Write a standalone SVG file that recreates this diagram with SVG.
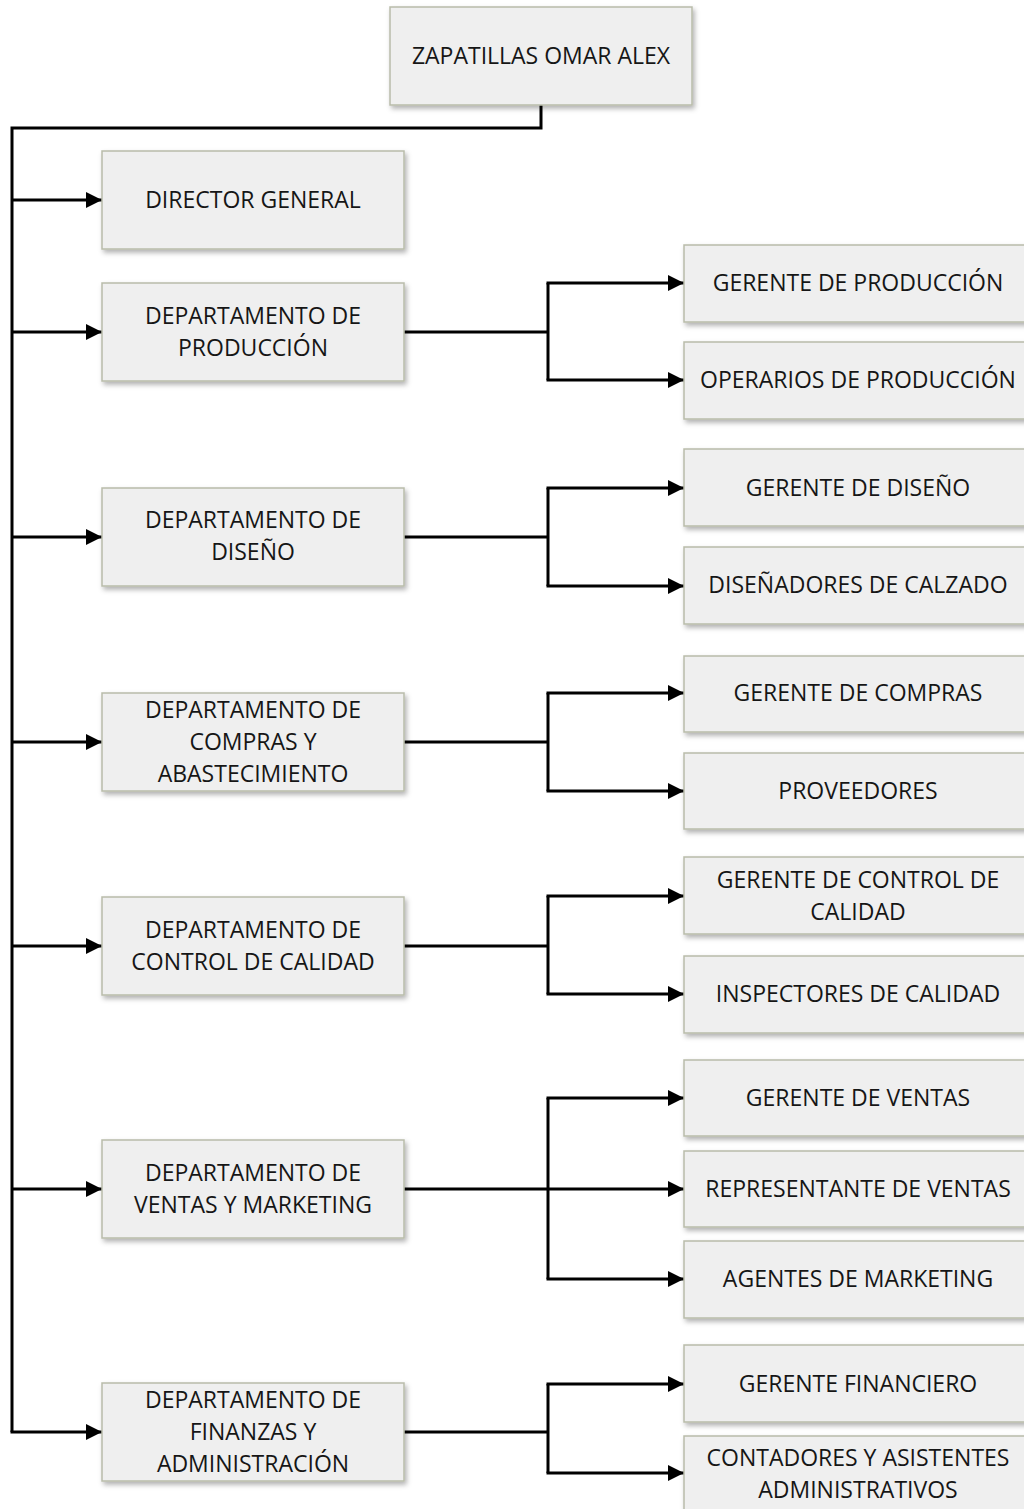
<svg xmlns="http://www.w3.org/2000/svg" width="1024" height="1509" viewBox="0 0 1024 1509">
  <style>
    .box { fill: #efefef; stroke: #b9bcaa; stroke-width: 1.5; filter: url(#shadow); }
    .lbl { font-family: "Open Sans", "Liberation Sans", sans-serif; font-size: 23px; fill: #161616; text-anchor: middle; }
    .wire { fill: none; stroke: #000; stroke-width: 3; }
    .arrow { fill: none; stroke: #000; stroke-width: 3; marker-end: url(#head); }
  </style>
  <defs>
    <filter id="shadow" x="-10%" y="-20%" width="125%" height="150%">
      <feDropShadow dx="2" dy="3" stdDeviation="2.5" flood-color="#000" flood-opacity="0.3"/>
    </filter>
    <marker id="head" viewBox="0 0 10 10" refX="10" refY="5" markerUnits="userSpaceOnUse" markerWidth="19" markerHeight="16" orient="auto">
      <path d="M0,0 L10,5 L0,10 Z" fill="#000"/>
    </marker>
  </defs>

  <rect width="1024" height="1509" fill="#fff"/>

  <!-- connectors -->
  <g id="connectors">
    <!-- trunk from the company box down the left edge -->
    <path class="wire" d="M541,105 V128 H12 V1432"/>
    <path class="arrow" d="M12,200 H102"/>
    <path class="arrow" d="M12,332 H102"/>
    <path class="arrow" d="M12,537 H102"/>
    <path class="arrow" d="M12,742 H102"/>
    <path class="arrow" d="M12,946 H102"/>
    <path class="arrow" d="M12,1189 H102"/>
    <path class="arrow" d="M10.5,1432 H102"/>

    <!-- produccion -->
    <path class="wire" d="M404,332 H548 M548,283 V380"/>
    <path class="arrow" d="M546.5,283 H684"/>
    <path class="arrow" d="M546.5,380 H684"/>
    <!-- diseno -->
    <path class="wire" d="M404,537 H548 M548,488 V586"/>
    <path class="arrow" d="M546.5,488 H684"/>
    <path class="arrow" d="M546.5,586 H684"/>
    <!-- compras -->
    <path class="wire" d="M404,742 H548 M548,693 V791"/>
    <path class="arrow" d="M546.5,693 H684"/>
    <path class="arrow" d="M546.5,791 H684"/>
    <!-- calidad -->
    <path class="wire" d="M404,946 H548 M548,896 V994"/>
    <path class="arrow" d="M546.5,896 H684"/>
    <path class="arrow" d="M546.5,994 H684"/>
    <!-- ventas -->
    <path class="wire" d="M548,1098 V1279"/>
    <path class="arrow" d="M546.5,1098 H684"/>
    <path class="arrow" d="M404,1189 H684"/>
    <path class="arrow" d="M546.5,1279 H684"/>
    <!-- finanzas -->
    <path class="wire" d="M404,1432 H548 M548,1384 V1473"/>
    <path class="arrow" d="M546.5,1384 H684"/>
    <path class="arrow" d="M546.5,1473 H684"/>
  </g>

  <g id="empresa">
    <rect class="box" x="390" y="7" width="302" height="98"/>
    <text class="lbl" x="541" y="64">ZAPATILLAS OMAR ALEX</text>
  </g>

  <g id="director-general">
    <rect class="box" x="102" y="151" width="302" height="98"/>
    <text class="lbl" x="253" y="208">DIRECTOR GENERAL</text>
  </g>
  <g id="dep-produccion">
    <rect class="box" x="102" y="283" width="302" height="98"/>
    <text class="lbl" x="253" y="324">DEPARTAMENTO DE</text>
    <text class="lbl" x="253" y="356">PRODUCCIÓN</text>
  </g>
  <g id="dep-diseno">
    <rect class="box" x="102" y="488" width="302" height="98"/>
    <text class="lbl" x="253" y="528">DEPARTAMENTO DE</text>
    <text class="lbl" x="253" y="560">DISEÑO</text>
  </g>
  <g id="dep-compras">
    <rect class="box" x="102" y="693" width="302" height="98"/>
    <text class="lbl" x="253" y="718">DEPARTAMENTO DE</text>
    <text class="lbl" x="253" y="750">COMPRAS Y</text>
    <text class="lbl" x="253" y="782">ABASTECIMIENTO</text>
  </g>
  <g id="dep-calidad">
    <rect class="box" x="102" y="897" width="302" height="98"/>
    <text class="lbl" x="253" y="938">DEPARTAMENTO DE</text>
    <text class="lbl" x="253" y="970">CONTROL DE CALIDAD</text>
  </g>
  <g id="dep-ventas">
    <rect class="box" x="102" y="1140" width="302" height="98"/>
    <text class="lbl" x="253" y="1181">DEPARTAMENTO DE</text>
    <text class="lbl" x="253" y="1213">VENTAS Y MARKETING</text>
  </g>
  <g id="dep-finanzas">
    <rect class="box" x="102" y="1383" width="302" height="98"/>
    <text class="lbl" x="253" y="1408">DEPARTAMENTO DE</text>
    <text class="lbl" x="253" y="1440">FINANZAS Y</text>
    <text class="lbl" x="253" y="1472">ADMINISTRACIÓN</text>
  </g>

  <g id="gerente-produccion">
    <rect class="box" x="684" y="245" width="348" height="77"/>
    <text class="lbl" x="858" y="291">GERENTE DE PRODUCCIÓN</text>
  </g>
  <g id="operarios-produccion">
    <rect class="box" x="684" y="342" width="348" height="77"/>
    <text class="lbl" x="858" y="388">OPERARIOS DE PRODUCCIÓN</text>
  </g>
  <g id="gerente-diseno">
    <rect class="box" x="684" y="449" width="348" height="77"/>
    <text class="lbl" x="858" y="496">GERENTE DE DISEÑO</text>
  </g>
  <g id="disenadores">
    <rect class="box" x="684" y="547" width="348" height="77"/>
    <text class="lbl" x="858" y="593">DISEÑADORES DE CALZADO</text>
  </g>
  <g id="gerente-compras">
    <rect class="box" x="684" y="656" width="348" height="76"/>
    <text class="lbl" x="858" y="701">GERENTE DE COMPRAS</text>
  </g>
  <g id="proveedores">
    <rect class="box" x="684" y="753" width="348" height="76"/>
    <text class="lbl" x="858" y="799">PROVEEDORES</text>
  </g>
  <g id="gerente-calidad">
    <rect class="box" x="684" y="857" width="348" height="77"/>
    <text class="lbl" x="858" y="888">GERENTE DE CONTROL DE</text>
    <text class="lbl" x="858" y="920">CALIDAD</text>
  </g>
  <g id="inspectores">
    <rect class="box" x="684" y="956" width="348" height="77"/>
    <text class="lbl" x="858" y="1002">INSPECTORES DE CALIDAD</text>
  </g>
  <g id="gerente-ventas">
    <rect class="box" x="684" y="1060" width="348" height="76"/>
    <text class="lbl" x="858" y="1106">GERENTE DE VENTAS</text>
  </g>
  <g id="representante-ventas">
    <rect class="box" x="684" y="1151" width="348" height="76"/>
    <text class="lbl" x="858" y="1197">REPRESENTANTE DE VENTAS</text>
  </g>
  <g id="agentes-marketing">
    <rect class="box" x="684" y="1241" width="348" height="77"/>
    <text class="lbl" x="858" y="1287">AGENTES DE MARKETING</text>
  </g>
  <g id="gerente-financiero">
    <rect class="box" x="684" y="1345" width="348" height="77"/>
    <text class="lbl" x="858" y="1392">GERENTE FINANCIERO</text>
  </g>
  <g id="contadores">
    <rect class="box" x="684" y="1436" width="348" height="80"/>
    <text class="lbl" x="858" y="1466">CONTADORES Y ASISTENTES</text>
    <text class="lbl" x="858" y="1498">ADMINISTRATIVOS</text>
  </g>
</svg>
